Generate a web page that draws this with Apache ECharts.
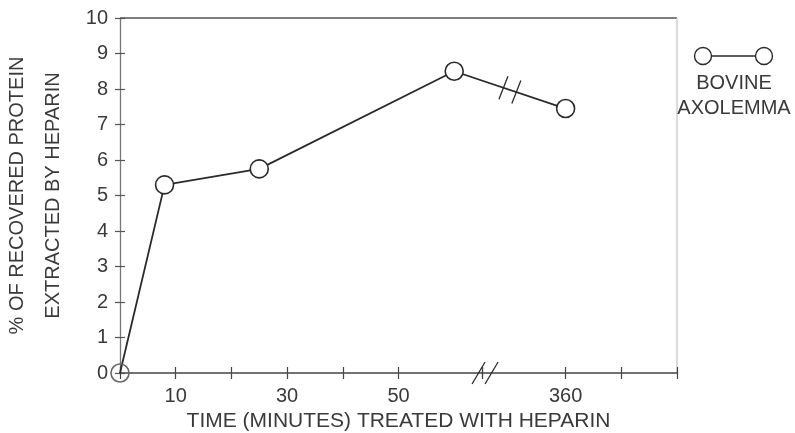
<!DOCTYPE html>
<html>
<head>
<meta charset="utf-8">
<script src="https://cdn.jsdelivr.net/npm/echarts@6/dist/echarts.min.js"></script>
<style>
  html, body { margin: 0; padding: 0; background: #fff; }
  #chart { width: 795px; height: 433px; }
</style>
</head>
<body>
<div id="chart"></div>
<script>
// time points (minutes) and % of recovered protein extracted by heparin
const minutes = [0, 8, 25, 60, 360];
const percentExtracted = [0, 5.3, 5.75, 8.5, 7.45];
const xLabelValues = [10, 30, 50, 360];
const xBreak = { start: 65, end: 345 };
const seriesName = 'BOVINE AXOLEMMA';

const font = 'Liberation Sans';
const ink = '#2a2a2a';
const textColor = '#3a3a3a';

const chart = echarts.init(document.getElementById('chart'));

const xBase = {
  type: 'value',
  min: 0,
  max: 380,
  interval: 10,
  breaks: [{ start: xBreak.start, end: xBreak.end, gap: 0 }],
  breakArea: { show: false },
  splitLine: { show: false }
};
const yBase = {
  type: 'value', min: 0, max: 10, interval: 1, position: 'left',
  splitLine: { show: false }
};

// the origin point sits on the axes, which show through it
const points = minutes.map((m, i) => i === 0
  ? { value: [m, percentExtracted[i]], itemStyle: { color: 'rgba(255,255,255,0)', borderColor: '#666' } }
  : [m, percentExtracted[i]]);

chart.setOption({
  animation: false,
  grid: { left: 120, right: 118, top: 18, bottom: 60, containLabel: false, outerBoundsMode: 'none' },
  xAxis: [
    Object.assign({}, xBase, {
      position: 'bottom',
      axisLine: { lineStyle: { color: '#444', width: 1.5 } },
      axisTick: { inside: true, length: 6, lineStyle: { color: '#444', width: 1.2 } },
      axisLabel: {
        margin: 13,
        fontFamily: font, fontSize: 20, color: textColor,
        formatter: (v) => xLabelValues.includes(v) ? String(v) : ''
      },
      name: 'TIME (MINUTES) TREATED WITH HEPARIN',
      nameLocation: 'middle',
      nameGap: 37,
      nameTextStyle: { fontFamily: font, fontSize: 21, color: textColor }
    }),
    Object.assign({}, xBase, {
      position: 'bottom',
      axisLine: { show: false },
      axisTick: { inside: false, length: 6, lineStyle: { color: '#444', width: 1.2 } },
      axisLabel: { show: false }
    })
  ],
  yAxis: [
    Object.assign({}, yBase, {
      axisLine: { show: true, lineStyle: { color: '#777', width: 1.3 } },
      axisTick: { show: true, inside: true, length: 5, lineStyle: { color: '#555', width: 1.2 } },
      axisLabel: { margin: 12, fontFamily: font, fontSize: 20, color: textColor },
      name: '% OF RECOVERED PROTEIN\nEXTRACTED BY HEPARIN',
      nameLocation: 'middle',
      nameRotate: 90,
      nameGap: 49,
      nameTextStyle: { fontFamily: font, fontSize: 20, color: textColor, lineHeight: 36 }
    }),
    Object.assign({}, yBase, {
      axisLine: { show: false },
      axisTick: { show: true, inside: false, length: 5, lineStyle: { color: '#555', width: 1.2 } },
      axisLabel: { show: false }
    })
  ],
  series: [{
    name: seriesName,
    type: 'line',
    xAxisIndex: 0,
    yAxisIndex: 0,
    data: points,
    symbol: 'circle',
    symbolSize: 18,
    itemStyle: { color: '#fff', borderColor: ink, borderWidth: 1.6 },
    lineStyle: { color: ink, width: 1.8 },
    z: 5
  }]
});

// frame, break marks ("//") on the data line and time axis, legend key
const toPx = (p) => chart.convertToPixel({ xAxisIndex: 0, yAxisIndex: 0 }, p);
const slashPair = (cx, cy, dx, dy, ox, oy) => [-1, 1].map((s) => ({
  type: 'line',
  shape: {
    x1: cx + s * ox - dx / 2, y1: cy + s * oy + dy / 2,
    x2: cx + s * ox + dx / 2, y2: cy + s * oy - dy / 2
  },
  style: { stroke: ink, lineWidth: 1.3 },
  z: 10
}));

const topLeft = toPx([0, 10]);
const topRight = toPx([380, 10]);
const bottomRight = toPx([380, 0]);
const pA = toPx([minutes[3], percentExtracted[3]]);
const pB = toPx([minutes[4], percentExtracted[4]]);
const segLen = Math.hypot(pB[0] - pA[0], pB[1] - pA[1]);
const ux = (pB[0] - pA[0]) / segLen, uy = (pB[1] - pA[1]) / segLen;
const mid = [(pA[0] + pB[0]) / 2, (pA[1] + pB[1]) / 2];
const axisBreak = toPx([xBreak.start, 0]);

chart.setOption({
  graphic: [
    { type: 'line', shape: { x1: topLeft[0], y1: topLeft[1], x2: topRight[0], y2: topRight[1] },
      style: { stroke: '#555', lineWidth: 1.5 } },
    { type: 'line', shape: { x1: topRight[0], y1: topRight[1], x2: bottomRight[0], y2: bottomRight[1] },
      style: { stroke: '#cfcfcf', lineWidth: 1.5 } },
    ...slashPair(mid[0], mid[1], 9, 23, ux * 6.8, uy * 6.8),
    ...slashPair(axisBreak[0] + 3, axisBreak[1], 13, 22, 6.5, 0),
    { type: 'circle', shape: { cx: 703, cy: 56, r: 8.5 }, style: { fill: 'none', stroke: ink, lineWidth: 1.4 } },
    { type: 'circle', shape: { cx: 764, cy: 56, r: 8.5 }, style: { fill: 'none', stroke: ink, lineWidth: 1.4 } },
    { type: 'line', shape: { x1: 712, y1: 56, x2: 755, y2: 56 }, style: { stroke: ink, lineWidth: 1.6 } },
    {
      type: 'text', x: 734, y: 96,
      style: {
        text: 'BOVINE\nAXOLEMMA', align: 'center', verticalAlign: 'middle',
        font: '20px "' + font + '"', lineHeight: 25.5, fill: textColor
      }
    }
  ]
});
</script>
</body>
</html>
